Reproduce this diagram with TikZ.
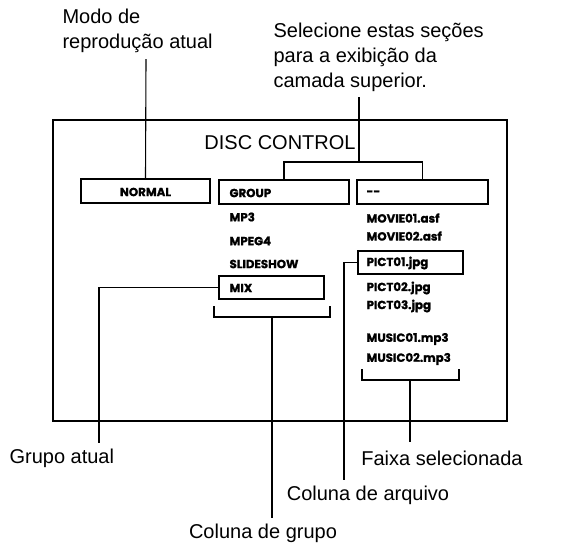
\documentclass[tikz,border=0pt]{standalone}
\usepackage{fontspec}
\setmainfont{Liberation Sans}
\newfontfamily\boxfont{Poppins}[BoldFeatures={FakeBold=1.2}]
\begin{document}
\begin{tikzpicture}[x=1pt,y=-1pt,line width=1.1pt,
  lbl/.style={font=\fontsize{20}{25}\selectfont,inner sep=0pt,align=left},
  itm/.style={font=\boxfont\bfseries\fontsize{11.8}{13}\selectfont,inner sep=0pt,anchor=west},
  boxn/.style={draw,minimum height=24pt,inner sep=0pt}]
\useasboundingbox (0,0) rectangle (565,544);
% main frame
\node[draw,minimum width=454pt,minimum height=301pt,inner sep=0pt] (frame) at (280,270.5) {};
\node[lbl] (title) at (280,143) {DISC CONTROL};
% boxes
\node[boxn,minimum width=129pt] (normal) at (145.5,191) {};
\node[boxn,minimum width=130pt] (group) at (284,192) {};
\node[boxn,minimum width=131pt] (dash) at (422.5,192) {};
\node[boxn,minimum width=105pt,minimum height=23pt] (mix) at (271.5,287.5) {};
\node[boxn,minimum width=105pt,minimum height=23pt] (pict) at (410.5,262.5) {};
% box texts
\node[itm,anchor=center] (tnormal) at (145.5,192) {NORMAL};
\node[itm] (tgroup) at (229,193) {GROUP};
\node[itm] (tmp3) at (229,217) {MP3};
\node[itm] (tmpeg) at (229,241) {MPEG4};
\node[itm] (tslide) at (229,264) {SLIDESHOW};
\node[itm] (tmix) at (229,288) {MIX};
\node[itm] (tdash) at (366,193) {--};
\node[itm] (tmov1) at (366,218) {MOVIE01.asf};
\node[itm] (tmov2) at (366,236) {MOVIE02.asf};
\node[itm] (tp1) at (366,263) {PICT01.jpg};
\node[itm] (tp2) at (366,288) {PICT02.jpg};
\node[itm] (tp3) at (366,306) {PICT03.jpg};
\node[itm] (tmu1) at (366,339) {MUSIC01.mp3};
\node[itm] (tmu2) at (366,359) {MUSIC02.mp3};
% labels
\node[lbl,anchor=north west] (modo) at (62,8) {Modo de\\reprodução atual};
\node[lbl,anchor=north west] (sel) at (273,22) {Selecione estas seções\\para a exibição da\\camada superior.};
\node[lbl,anchor=west] (gatual) at (9,458) {Grupo atual};
\node[lbl] (faixa) at (442,458) {Faixa selecionada};
\node[lbl] (carq) at (368,495) {Coluna de arquivo};
\node[lbl] (cgrp) at (263,533) {Coluna de grupo};
% connector end points
\coordinate (modoEnd) at (146,59);
\coordinate (selEnd) at (359,97);
\coordinate (selJoin) at (359,162);
\coordinate (gaEnd) at (99,443);
\coordinate (caEnd) at (344,480);
\coordinate (gb1) at (214,306);
\coordinate (gb2) at (330,306);
\coordinate (gbMid) at (272,317);
\coordinate (cgEnd) at (272,518);
\coordinate (mb1) at (362,369);
\coordinate (mb2) at (459,369);
\coordinate (mbMid) at (410,380);
\coordinate (fsEnd) at (410,442);
% connectors
\draw (normal.north) -- (modoEnd);
\draw (group.north) |- (selJoin) -| (dash.north);
\draw (selJoin) -- (selEnd);
\draw (mix.west) -| (gaEnd);
\draw (pict.west) -| (caEnd);
\draw (gb1) |- (gbMid) -| (gb2);
\draw (gbMid) -- (cgEnd);
\draw (mb1) |- (mbMid) -| (mb2);
\draw (mbMid) -- (fsEnd);
\end{tikzpicture}
\end{document}
